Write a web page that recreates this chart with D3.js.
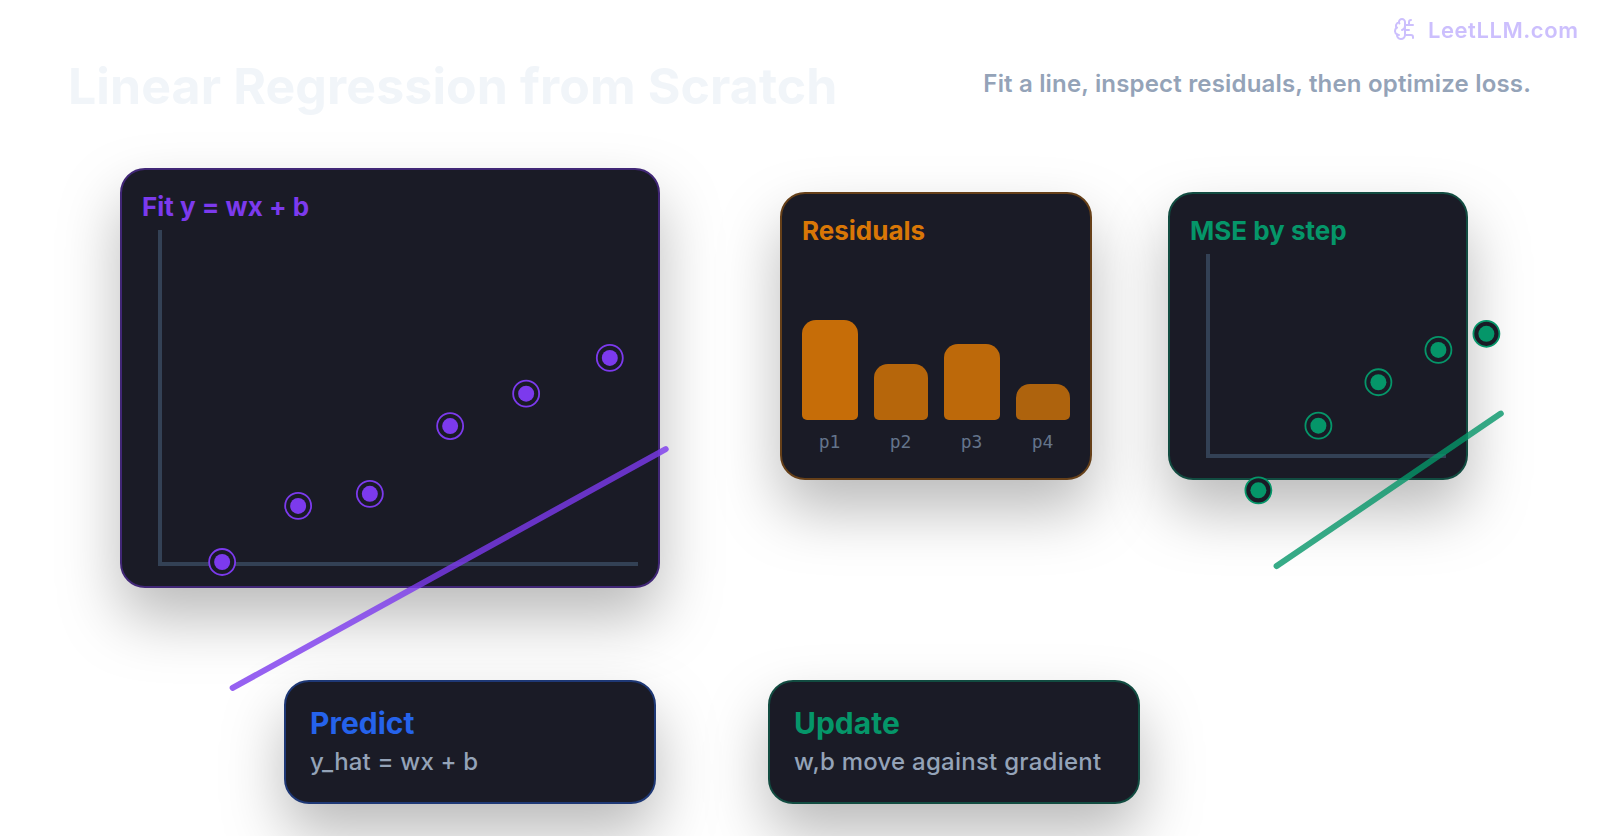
<!DOCTYPE html>
<html><head><meta charset="utf-8">
<script src="https://cdn.jsdelivr.net/npm/d3@7/dist/d3.min.js"></script>
<style>html,body{margin:0;padding:0;background:#fff}svg{display:block}text{font-family:Inter,sans-serif}</style>
</head><body><svg id="c" width="1600" height="836"></svg>
<script>
const titleText = "Linear Regression from Scratch";
const subtitleText = "Fit a line, inspect residuals, then optimize loss.";
const brandText = "LeetLLM.com";
const fitX = [1.30, 2.89, 4.39, 6.07, 7.66, 9.41];
const fitY = [0.06, 1.74, 2.10, 4.13, 5.10, 6.17];
const fitLineX = [1.52, 10.58];
const fitLineY = [-3.71, 3.44];
const residualLabels = ["p1", "p2", "p3", "p4"];
const residualValues = [1.0, 0.56, 0.76, 0.36];
const residualOpacity = [0.9, 0.82, 0.86, 0.78];
const mseX = [0.21, 0.46, 0.71, 0.96, 1.16];
const mseY = [-0.17, 0.15, 0.365, 0.525, 0.605];
const mseLineX = [0.286, 1.22];
const mseLineY = [-0.545, 0.21];

const svg = d3.select("#c");
const defs = svg.append("defs");
const f = defs.append("filter").attr("id","sh").attr("x","-50%").attr("y","-50%").attr("width","200%").attr("height","220%").attr("color-interpolation-filters","sRGB");
f.append("feDropShadow").attr("dx",0).attr("dy",30).attr("stdDeviation",30).attr("flood-color","#000").attr("flood-opacity",0.27);

const CARD="#1a1b26", AXIS="#334155";
function card(x,y,w,h,color,r=24){
  return svg.append("rect").attr("x",x+1).attr("y",y+1).attr("width",w-2).attr("height",h-2).attr("rx",r).attr("fill",CARD)
    .attr("filter","url(#sh)").attr("stroke",d3.interpolateRgb(CARD,color)(0.4)).attr("stroke-width",2);
}
function label(x,y,t,color,size,weight,anchor,ls){
  return svg.append("text").attr("x",x).attr("y",y).text(t).attr("fill",color).attr("font-size",size).attr("font-weight",weight).attr("text-anchor",anchor||"start").attr("letter-spacing",ls||0);
}
// Header
label(68,103.5,titleText,"#f1f5f9",50,700,"start",0.1);
label(1531,92,subtitleText,"#94a3b8",24,600,"end",0.18);
const brain = svg.append("g").attr("transform","translate(1393,17)").attr("fill","none").attr("stroke","#c4b5fd").attr("stroke-width",2).attr("stroke-linecap","round").attr("stroke-linejoin","round").attr("opacity",0.85);
["M12 5a3 3 0 1 0-5.997.125 4 4 0 0 0-2.526 5.77 4 4 0 0 0 .556 6.588A4 4 0 1 0 12 18Z","M9 13a4.5 4.5 0 0 0 3-4","M6.003 5.125A3 3 0 0 0 6.401 6.5","M3.477 10.896a4 4 0 0 1 .585-.396","M6 18a4 4 0 0 1-1.967-.516","M12 13h4","M12 18h6a2 2 0 0 1 2 2v1","M12 8h8","M16 8V5a2 2 0 0 1 2-2"].forEach(d=>brain.append("path").attr("d",d));
label(1428,38,brandText,"#c4b5fd",22,600,"start",0.55).attr("opacity",0.85);

function axesL(x0,y0,x1,y1){
  svg.append("path").attr("d",d3.line()([[x0,y1],[x0,y0],[x1,y0]])).attr("fill","none").attr("stroke",AXIS).attr("stroke-width",4);
}
function dots(xs,ys,sx,sy,color){
  const g=svg.append("g").selectAll("g").data(xs.map((x,i)=>[x,ys[i]])).join("g").attr("transform",d=>`translate(${sx(d[0])},${sy(d[1])})`);
  g.append("circle").attr("r",13).attr("fill",CARD).attr("stroke",color).attr("stroke-width",1.8);
  g.append("circle").attr("r",8).attr("fill",color);
}
function fitline(xs,ys,sx,sy,color,op){
  svg.append("path").attr("d",d3.line().x(d=>sx(d[0])).y(d=>sy(d[1]))(xs.map((x,i)=>[x,ys[i]]))).attr("stroke",color).attr("stroke-width",6).attr("stroke-linecap","round").attr("fill","none").attr("opacity",op);
}
// Fit card
card(120,168,540,420,"#7c3aed");
label(142,216,"Fit y = wx + b","#7c3aed",26,700);
const fx=d3.scaleLinear([0,10],[160,638]), fy=d3.scaleLinear([0,10],[564,230]);
axesL(160,564,638,230);
dots(fitX,fitY,fx,fy,"#7c3aed");
// Residuals card
card(780,192,312,288,"#d97706");
label(802,240,"Residuals","#d97706",26,700);
const bx=d3.scaleBand(residualLabels,[802.5,1070.5]).paddingInner(16/71);
const by=d3.scaleLinear([0,1],[420,320]);
function topRound(x,y,w,h,rt,rb){
  return `M${x+rb},${y+h}A${rb},${rb} 0 0 1 ${x},${y+h-rb}V${y+rt}A${rt},${rt} 0 0 1 ${x+rt},${y}H${x+w-rt}A${rt},${rt} 0 0 1 ${x+w},${y+rt}V${y+h-rb}A${rb},${rb} 0 0 1 ${x+w-rb},${y+h}Z`;
}
const barW = i => bx.bandwidth() + (i%2 ? -1 : 1);
const barX = (l,i) => bx(l)+bx.bandwidth()/2-barW(i)/2;
svg.append("g").selectAll("path").data(residualLabels).join("path")
  .attr("d",(l,i)=>topRound(barX(l,i),by(residualValues[i]),barW(i),by(0)-by(residualValues[i]),14,5))
  .attr("fill","#d97706").attr("opacity",(l,i)=>residualOpacity[i]);
svg.append("g").selectAll("text").data(residualLabels).join("text").text(d=>d)
  .attr("x",d=>bx(d)+bx.bandwidth()/2-0.5).attr("y",448).attr("text-anchor","middle")
  .attr("fill","#64748b").attr("font-size",18).style("font-family","'DejaVu Sans Mono',monospace");
// MSE card
card(1168,192,300,288,"#059669");
label(1190,240,"MSE by step","#059669",26,700);
const mx=d3.scaleLinear([0,1],[1208,1446]), my=d3.scaleLinear([0,1],[456,254]);
axesL(1208,456,1446,254);
dots(mseX.map(v=>v*240/238),mseY,mx,my,"#059669");
// Bottom cards
card(284,680,372,124,"#2563eb");
label(310,734,"Predict","#2563eb",30,700);
label(310,770,"y_hat = wx + b","#94a3b8",24,500,"start",0.18);
card(768,680,372,124,"#059669");
label(794,734,"Update","#059669",30,700);
label(794,770,"w,b move against gradient","#94a3b8",24,500,"start",0.25);
// Regression lines on top
fitline(fitLineX,fitLineY,fx,fy,"#7c3aed",0.8);
fitline(mseLineX.map(v=>v*240/238),mseLineY,mx,my,"#059669",0.8);
</script></body></html>
